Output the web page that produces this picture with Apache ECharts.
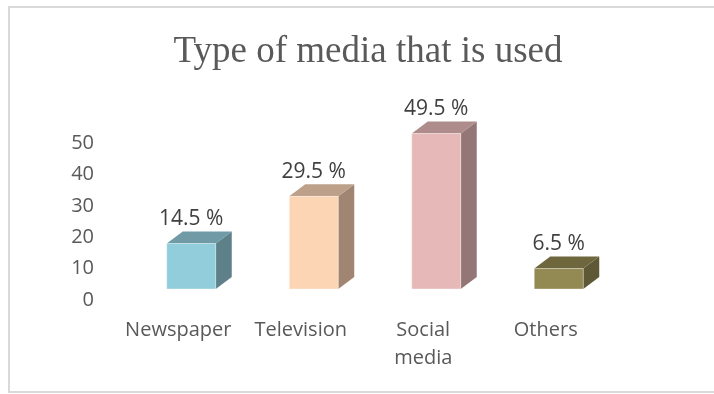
<!DOCTYPE html>
<html>
<head>
<meta charset="utf-8">
<script src="https://cdn.jsdelivr.net/npm/echarts@6/dist/echarts.min.js"></script>
<style>
  html, body { margin: 0; padding: 0; background: #ffffff; }
  #chart { width: 714px; height: 394px; }
</style>
</head>
<body>
<div id="chart"></div>
<script>
// Share of respondents by media type (%)
const categories = ['Newspaper', 'Television', 'Social\nmedia', 'Others'];
const shares = [14.5, 29.5, 49.5, 6.5];
const yTicks = [0, 10, 20, 30, 40, 50];

// Face colours per bar: front, top, side
const frontColors = ['#92cddc', '#fcd5b5', '#e6b9b8', '#938953'];
const topColors = ['#6f9aa6', '#bda08a', '#ae8c8b', '#6e673e'];
const sideColors = ['#5e8189', '#a08672', '#957676', '#5e5836'];

const TEXT = '#595959';
const LABEL_FONT = '"Open Sans", "Noto Sans", sans-serif';

// Box geometry used by the pseudo-3D bar renderer
const BAR_W = 49;        // front face width
const DEPTH_X = 16;      // receding offset to the right
const DEPTH_Y = -12;     // receding offset upwards
const SHIFT_X = 13;      // front face offset from the category centre
const SHIFT_Y = -11;     // front face offset from the axis baseline

function renderBox(params, api) {
  const idx = api.value(0);
  const val = api.value(1);
  const base = api.coord([idx, 0]);
  const top = api.coord([idx, val]);
  const cx = base[0] + SHIFT_X;
  const x0 = cx - BAR_W / 2;
  const x1 = cx + BAR_W / 2;
  const yb = base[1] + SHIFT_Y;
  const yt = top[1] + SHIFT_Y;
  const i = params.dataIndex;
  return {
    type: 'group',
    children: [
      {
        type: 'polygon',
        shape: { points: [[x1, yb], [x1, yt], [x1 + DEPTH_X, yt + DEPTH_Y], [x1 + DEPTH_X, yb + DEPTH_Y]] },
        style: { fill: sideColors[i] }
      },
      {
        type: 'polygon',
        shape: { points: [[x0, yt], [x1, yt], [x1 + DEPTH_X, yt + DEPTH_Y], [x0 + DEPTH_X, yt + DEPTH_Y]] },
        style: { fill: topColors[i] }
      },
      {
        type: 'rect',
        shape: { x: x0, y: yt, width: BAR_W, height: yb - yt },
        style: { fill: frontColors[i], stroke: 'rgba(255,255,255,0.35)', lineWidth: 1 }
      },
      {
        type: 'text',
        style: {
          text: val + ' %',
          x: cx,
          y: yt + DEPTH_Y - 2,
          align: 'center',
          verticalAlign: 'bottom',
          font: '21px ' + LABEL_FONT,
          fill: '#404040'
        }
      }
    ]
  };
}

const chart = echarts.init(document.getElementById('chart'), null, { renderer: 'canvas' });
chart.setOption({
  backgroundColor: '#ffffff',
  animation: false,
  title: {
    text: 'Type of media that is used',
    left: 363,
    textAlign: 'center',
    top: 29,
    textStyle: {
      fontFamily: '"Liberation Serif", "Times New Roman", serif',
      fontSize: 37,
      fontWeight: 'normal',
      color: TEXT
    }
  },
  graphic: [{
    type: 'rect',
    shape: { x: 9, y: 7, width: 760, height: 385 },
    style: { fill: 'none', stroke: '#d9d9d9', lineWidth: 2 },
    silent: true
  }],
  grid: { left: 117, right: 107, top: 143, bottom: 94 },
  xAxis: {
    type: 'category',
    data: categories,
    axisLine: { show: false },
    axisTick: { show: false },
    axisLabel: {
      color: TEXT,
      fontFamily: LABEL_FONT,
      fontSize: 20,
      lineHeight: 28,
      margin: 16,
      interval: 0
    }
  },
  yAxis: {
    type: 'value',
    min: yTicks[0],
    max: yTicks[yTicks.length - 1],
    interval: 10,
    splitLine: { show: false },
    axisLine: { show: false },
    axisTick: { show: false },
    axisLabel: {
      color: TEXT,
      fontFamily: LABEL_FONT,
      fontSize: 20,
      margin: 23
    }
  },
  series: [{
    type: 'custom',
    renderItem: renderBox,
    data: shares.map((v, i) => [i, v]),
    encode: { x: 0, y: 1 },
    clip: false
  }]
});
</script>
</body>
</html>
